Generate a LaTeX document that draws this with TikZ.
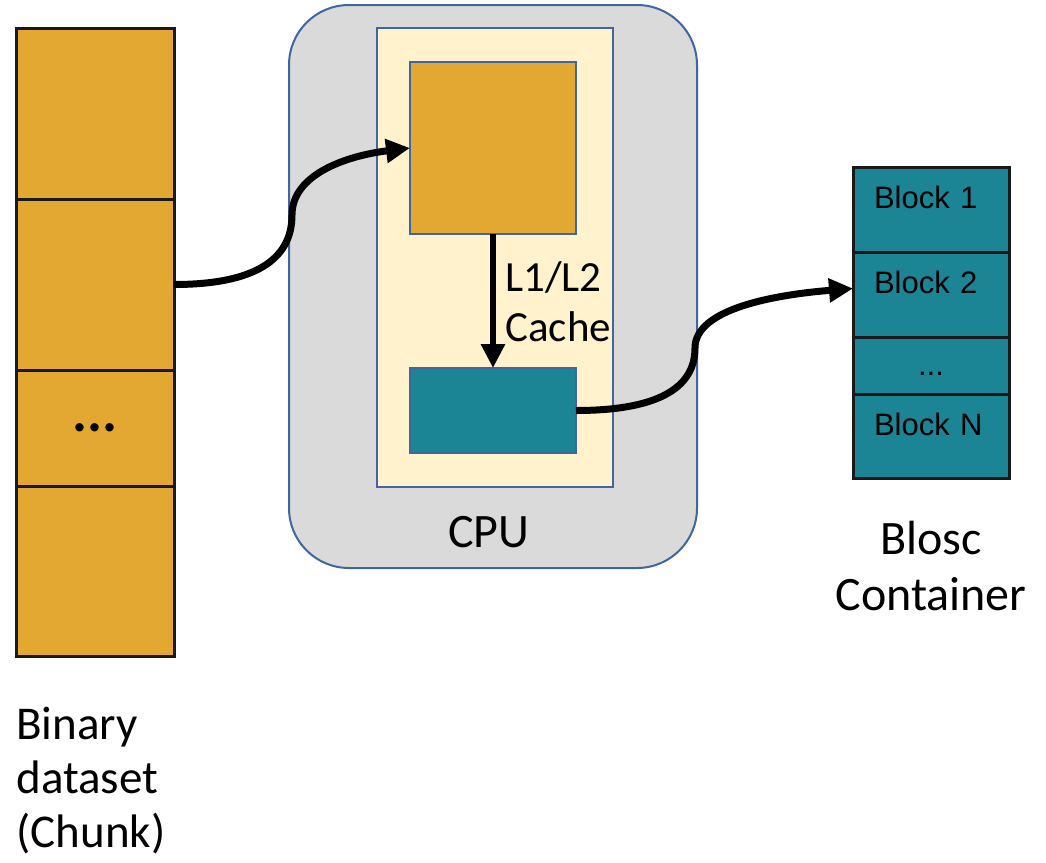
\documentclass[tikz,border=0pt]{standalone}
\usepackage{fontspec}
\setmainfont{Carlito}
\newfontfamily\arialfont{Liberation Sans}
\usetikzlibrary{positioning,arrows.meta}
\definecolor{chunkorange}{HTML}{E3A832}
\definecolor{blockteal}{HTML}{1B8595}
\definecolor{cacheyellow}{HTML}{FFF2CC}
\definecolor{cpugray}{HTML}{DADADA}
\definecolor{frameblue}{HTML}{41659F}

\begin{document}
\begin{tikzpicture}[x=0.5pt, y=0.5pt,
  chunkcell/.style={draw=black!90, line width=1.5pt, fill=chunkorange,
    minimum width=79pt, inner sep=0pt, outer sep=0pt},
  blockcell/.style={draw=black!90, line width=1.5pt, fill=blockteal,
    minimum width=78pt, inner sep=0pt, outer sep=0pt,
    font=\arialfont\fontsize{15.5}{18}\selectfont},
  blocklabel/.style={blockcell, text width=57pt, align=left,
    text height=11pt, text depth=12pt},
  cpupart/.style={draw=frameblue, line width=1pt, inner sep=0pt, outer sep=0pt},
  bigtext/.style={font=\fontsize{24}{28}\selectfont, inner sep=0pt},
  flow/.style={line width=3.5pt, -{Triangle[length=12pt, width=11.5pt]}},
]
  \useasboundingbox (0,0) rectangle (1046,-863);

  % binary dataset, cut in chunks
  \node [chunkcell, minimum height=85.5pt] (chunk1) at (95,-113.5) {};
  \node [chunkcell, minimum height=85.5pt, below=0pt of chunk1] (chunk2) {};
  \node [chunkcell, minimum height=58pt, below=0pt of chunk2,
    font=\bfseries\fontsize{28}{30}\selectfont] (chunk3) {...};
  \node [chunkcell, minimum height=85pt, below=0pt of chunk3] (chunk4) {};
  \node [bigtext, font=\fontsize{23.5}{27}\selectfont, anchor=north west,
    align=left] (chunk label) at (16,-707) {Binary\\dataset\\(Chunk)};

  % cpu with its cache
  \node [cpupart, fill=cpugray, rounded corners=30pt,
    minimum width=204pt, minimum height=281.5pt] (cpu) at (493,-286.5) {};
  \node [cpupart, fill=cacheyellow,
    minimum width=118pt, minimum height=229.5pt] (cache) at (495,-257.5) {};
  \node [cpupart, fill=chunkorange,
    minimum width=83pt, minimum height=86pt] (core) at (493,-148) {};
  \node [cpupart, fill=blockteal,
    minimum width=83pt, minimum height=42.5pt] (buffer) at (493,-410.5) {};
  \draw [flow, line width=3.3pt] (core.south) -- (buffer.north);
  \node [bigtext, font=\fontsize{21.5}{25}\selectfont, anchor=north west,
    align=left] (cache label) at (505,-261) {L1/L2\\Cache};
  \node [bigtext, anchor=base] (cpu label) at (489,-547) {CPU};

  % blosc container
  \node [blocklabel, minimum height=42.5pt] (block1) at (931,-209.5) {Block 1};
  \node [blocklabel, minimum height=42.5pt, below=0pt of block1] (block2) {Block 2};
  \node [blockcell, minimum height=28.5pt, below=0pt of block2,
    text height=10pt, text depth=0pt] (block3) {...};
  \node [blocklabel, minimum height=42pt, below=0pt of block3] (blockN) {Block N};
  \node [bigtext, anchor=north, align=center] (blosc label) at (931,-521)
    {Blosc\\Container};

  % data paths
  \coordinate (bend in) at (292,-215);
  \coordinate (bend out) at (695,-348);
  \draw [flow]
    (chunk2.east)
    .. controls +(80,0) and +(0,-45) .. (bend in)
    .. controls +(0,40) and +(-65,-8) .. (core.west)
  ;
  \draw [flow]
    (buffer.east)
    .. controls +(78,0) and +(0,-42) .. (bend out)
    .. controls +(0,40) and +(-75,-6) .. ([yshift=3pt]block2.west)
  ;
\end{tikzpicture}
\end{document}
